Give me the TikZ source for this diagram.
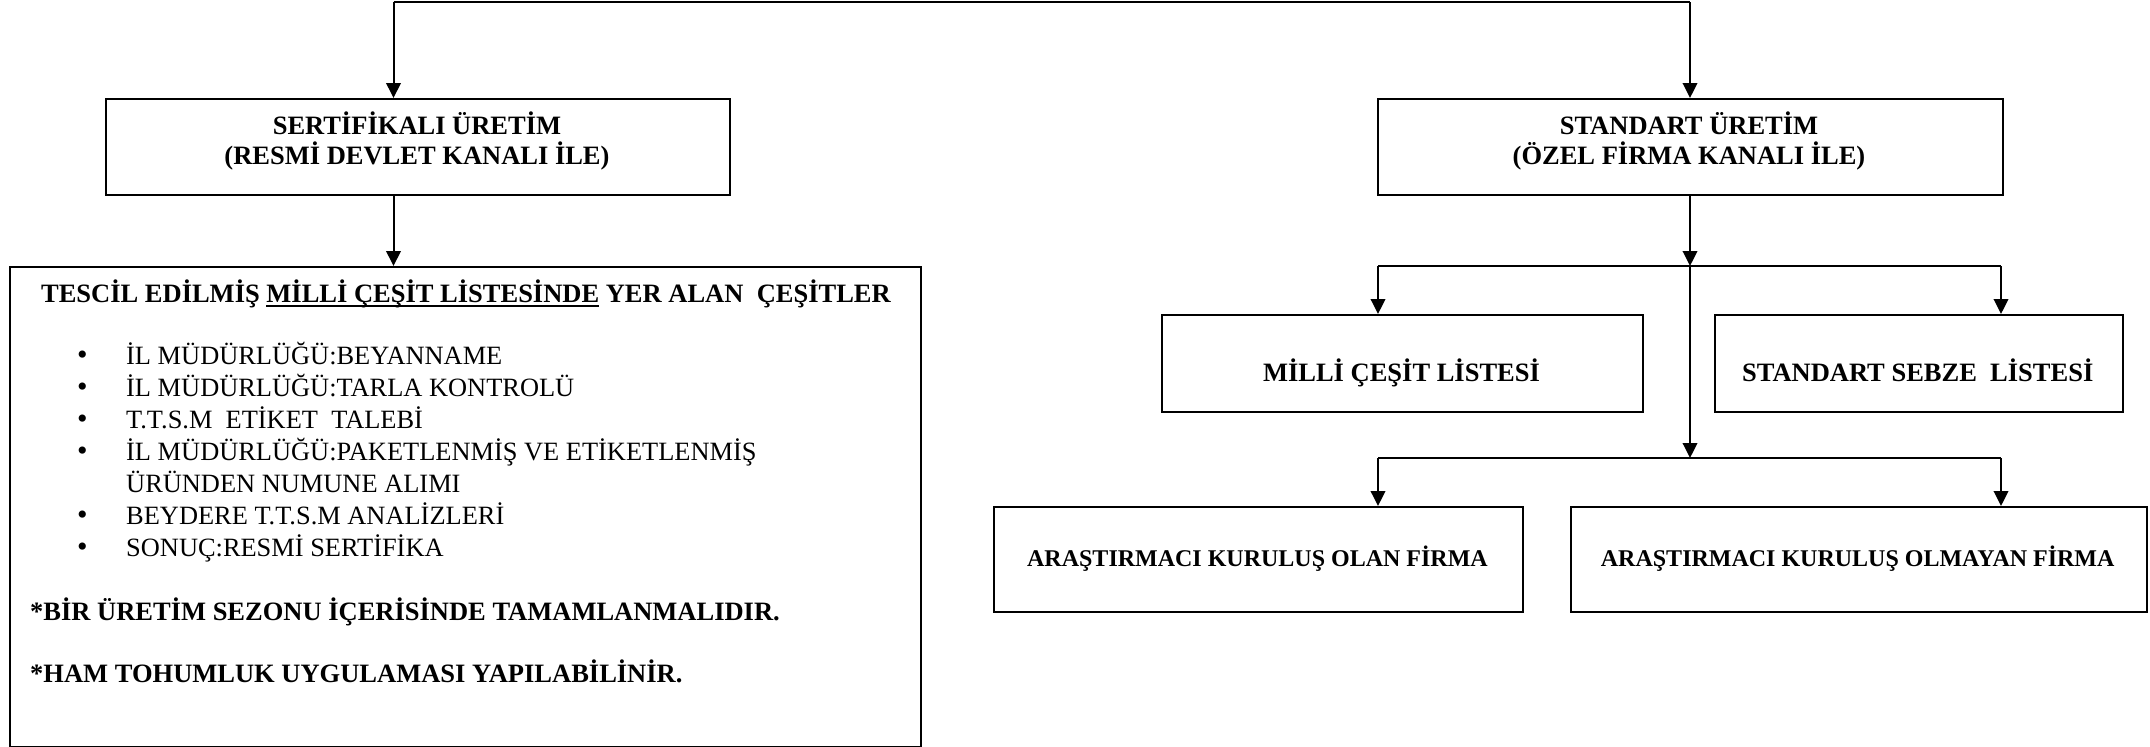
\documentclass[tikz,border=0pt]{standalone}
\usepackage{fontspec}
\setmainfont{Liberation Serif}
\usetikzlibrary{arrows.meta}
\newcommand\fBig{\fontsize{26.5}{30}\selectfont\bfseries}
\newcommand\fMid{\fontsize{24}{28}\selectfont\bfseries}
\newcommand\fReg{\fontsize{26.4}{32}\selectfont}
\newcommand\fBul{\fontsize{30}{32}\selectfont}
\newcommand\myul[1]{\setbox0\hbox{#1}\rlap{\rule[-4.2pt]{\wd0}{2pt}}\box0\relax}
\tikzset{
  box/.style={draw, line width=2pt, rectangle, inner sep=0pt, anchor=north west},
  conn/.style={line width=2pt},
  arr/.style={line width=2pt, -{Triangle[length=15pt,width=14.5pt]}},
  bt/.style={inner sep=0pt, anchor=base, font=\fBig},
  mt/.style={inner sep=0pt, anchor=base, font=\fMid},
  rt/.style={inner sep=0pt, anchor=base west, font=\fReg},
  bw/.style={inner sep=0pt, anchor=base west, font=\fBig},
  bul/.style={inner sep=0pt, anchor=base, font=\fBul},
}
\begin{document}
\begin{tikzpicture}[x=1pt,y=-1pt]
\useasboundingbox (0,0) rectangle (2150,747);
% boxes
\node[box, minimum width=624pt, minimum height=96pt] (sert) at (105,98) {};
\node[box, minimum width=625pt, minimum height=96pt] (stand) at (1377,98) {};
\node[box, minimum width=911pt, minimum height=480pt] (big) at (9,266) {};
\node[box, minimum width=481pt, minimum height=97pt] (milli) at (1161,314) {};
\node[box, minimum width=408.5pt, minimum height=97pt] (sebze) at (1713.5,314) {};
\node[box, minimum width=529pt, minimum height=105pt] (olan) at (993,506) {};
\node[box, minimum width=576.5pt, minimum height=105pt] (olmayan) at (1569.5,506) {};
% texts
\node[bt] (sertA) at (417,134.3) {SERTİFİKALI ÜRETİM};
\node[bt] (sertB) at (417,164.3) {(RESMİ DEVLET KANALI İLE)};
\node[bt] (standA) at (1689,134.3) {STANDART ÜRETİM};
\node[bt] (standB) at (1689,164.3) {(ÖZEL FİRMA KANALI İLE)};
\node[bt] (milliT) at (1401.5,381) {MİLLİ ÇEŞİT LİSTESİ};
\node[bt] (sebzeT) at (1917.7,381) {STANDART SEBZE \ LİSTESİ};
\node[mt] (olanT) at (1257.5,566.7) {ARAŞTIRMACI KURULUŞ OLAN FİRMA};
\node[mt] (olmayanT) at (1857.7,566.7) {ARAŞTIRMACI KURULUŞ OLMAYAN FİRMA};
\node[bt] (title) at (466,302.8) {TESCİL EDİLMİŞ \myul{MİLLİ ÇEŞİT LİSTESİNDE} YER ALAN \ ÇEŞİTLER};
\node[bul] (b1) at (82.5,364) {•};
\node[rt] (l1) at (126,364) {İL MÜDÜRLÜĞÜ:BEYANNAME};
\node[bul] (b2) at (82.5,396) {•};
\node[rt] (l2) at (126,396) {İL MÜDÜRLÜĞÜ:TARLA KONTROLÜ};
\node[bul] (b3) at (82.5,428.2) {•};
\node[rt] (l3) at (126,428.2) {T.T.S.M \ ETİKET \ TALEBİ};
\node[bul] (b4) at (82.5,460.4) {•};
\node[rt] (l4) at (126,460.4) {İL MÜDÜRLÜĞÜ:PAKETLENMİŞ VE ETİKETLENMİŞ};
\node[rt] (l5) at (126,492.4) {ÜRÜNDEN NUMUNE ALIMI};
\node[bul] (b6) at (82.5,524.5) {•};
\node[rt] (l6) at (126,524.5) {BEYDERE T.T.S.M ANALİZLERİ};
\node[bul] (b7) at (82.5,556.5) {•};
\node[rt] (l7) at (126,556.5) {SONUÇ:RESMİ SERTİFİKA};
\node[bw] (n1) at (30,620.8) {*BİR ÜRETİM SEZONU İÇERİSİNDE TAMAMLANMALIDIR.};
\node[bw] (n2) at (30,682.3) {*HAM TOHUMLUK UYGULAMASI YAPILABİLİNİR.};
% connectors
\coordinate (t1) at (393.5,2);
\coordinate (t2) at (1690,2);
\coordinate (j1) at (1690,266);
\coordinate (j1L) at (1378,266);
\coordinate (j1R) at (2001,266);
\coordinate (j2) at (1690,458);
\coordinate (j2L) at (1378,458);
\coordinate (j2R) at (2001,458);
\draw[conn] (t1) -- (t2);
\draw[arr] (t1) -- (t1 |- sert.north);
\draw[arr] (t2) -- (t2 |- stand.north);
\draw[arr] (t1 |- sert.south) -- (t1 |- big.north);
\draw[arr] (t2 |- stand.south) -- (j1);
\draw[conn] (j1L) -- (j1R);
\draw[arr] (j1L) -- (j1L |- milli.north);
\draw[arr] (j1R) -- (j1R |- sebze.north);
\draw[arr] (j1) -- (j2);
\draw[conn] (j2L) -- (j2R);
\draw[arr] (j2L) -- (j2L |- olan.north);
\draw[arr] (j2R) -- (j2R |- olmayan.north);
\end{tikzpicture}
\end{document}
